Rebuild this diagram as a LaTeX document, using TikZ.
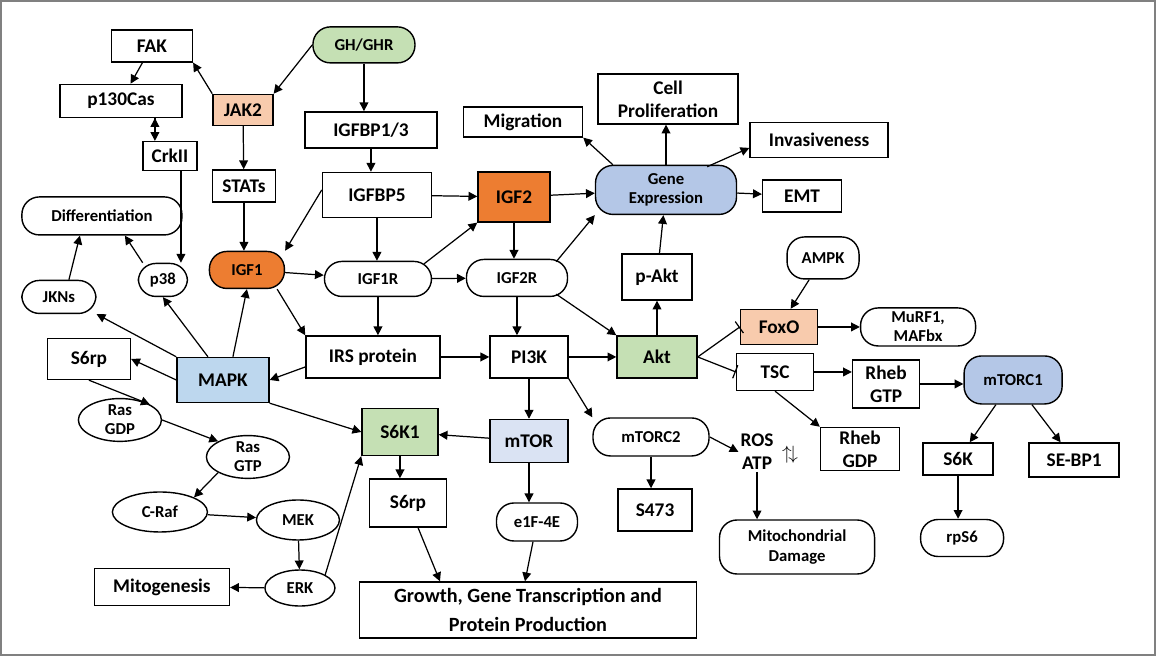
\documentclass[tikz,border=0pt]{standalone}
\usepackage{fontspec}
\setmainfont{Carlito}
\usetikzlibrary{shapes.geometric,arrows.meta}
\definecolor{orng}{HTML}{ED7D31}
\definecolor{peach}{HTML}{F8CBAD}
\definecolor{lgreen}{HTML}{C5E0B4}
\definecolor{lblue}{HTML}{B4C7E7}
\definecolor{sblue}{HTML}{BDD7EE}
\definecolor{mblue}{HTML}{DAE3F3}
\begin{document}
\begin{tikzpicture}[x=0.02cm,y=-0.02cm,
  every node/.style={font=\bfseries\fontsize{11}{13}\selectfont, align=center, inner sep=1pt},
  sz/.style 2 args={minimum width=#1*0.02cm, minimum height=#2*0.02cm},
  bx/.style={draw, thick, rectangle},
  rd/.style={draw, thick, rounded corners=0.35cm},
  el/.style={draw, thick, ellipse, inner sep=0pt},
  sm/.style={font=\bfseries\fontsize{9.5}{11}\selectfont},
  ar/.style={-{Triangle[length=5pt,width=5pt]}, line width=0.7pt},
  inh/.style={-{Bar[width=8pt]}, line width=0.7pt}]
\draw[gray, line width=1pt] (1,1) rectangle (1155,655);
\node[bx,sz={81}{32}] (fak) at (152,46) {FAK};
\node[rd,sz={102}{36},fill=lgreen,sm] (gh) at (364,45) {GH/GHR};
\node[bx,sz={60}{31},fill=peach] (jak) at (243,110) {JAK2};
\node[bx,sz={122}{33}] (p130) at (121,101) {p130Cas};
\node[bx,sz={132}{36}] (bp13) at (371,130) {IGFBP1/3};
\node[bx,sz={54}{29}] (crk) at (170,156) {CrkII};
\node[bx,sz={63}{32}] (stat) at (244,186) {STATs};
\node[bx,sz={109}{45}] (bp5) at (377,195) {IGFBP5};
\node[bx,sz={72}{50},fill=orng] (igf2) at (514,197) {IGF2};
\node[bx,sz={119}{30}] (mig) at (523,122) {Migration};
\node[bx,sz={140}{50}] (prol) at (668,99) {Cell\\Proliferation};
\node[bx,sz={138}{35}] (inv) at (819,140) {Invasiveness};
\node[rd,sz={141}{49},fill=lblue,sm,font=\bfseries\fontsize{9.5}{11}\selectfont] (ge) at (666,190) {Gene\\Expression};
\node[bx,sz={79}{32}] (emt) at (802,196) {EMT};
\node[rd,sz={160}{38},sm] (diff) at (102,216) {Differentiation};
\node[rd,sz={72}{42},sm] (ampk) at (823,258) {AMPK};
\node[rd,sz={49}{33},sm] (p38) at (163,280) {p38};
\node[rd,sz={75}{37},fill=orng,sm] (igf1) at (247,270) {IGF1};
\node[rd,sz={107}{35},sm] (igf1r) at (378,279) {IGF1R};
\node[rd,sz={101}{37},sm] (igf2r) at (517,278) {IGF2R};
\node[bx,sz={70}{46}] (pakt) at (657,277) {p-Akt};
\node[rd,sz={74}{33},sm] (jkn) at (59,297) {JKNs};
\node[bx,sz={77}{35},fill=peach] (foxo) at (779,327) {FoxO};
\node[rd,sz={115}{38},sm] (murf) at (918,327) {MuRF1,\\MAFbx};
\node[bx,sz={83}{41}] (s6l) at (89,359) {S6rp};
\node[bx,sz={92}{45},fill=sblue] (mapk) at (223,380) {MAPK};
\node[bx,sz={134}{42}] (irs) at (373,357) {IRS protein};
\node[bx,sz={78}{42}] (pi3k) at (529,357) {PI3K};
\node[bx,sz={80}{42},fill=lgreen] (akt) at (657,357) {Akt};
\node[bx,sz={77}{37}] (tsc) at (775,372) {TSC};
\node[bx,sz={67}{48}] (rgtp) at (886,384) {Rheb\\GTP};
\node[rd,sz={98}{48},fill=lblue,sm] (mtorc1) at (1013,380) {mTORC1};
\node[el,sz={83}{36},sm] (rasd) at (120,420) {Ras\\GDP};
\node[el,sz={83}{40},sm] (rast) at (248,457) {Ras\\GTP};
\node[bx,sz={76}{47},fill=lgreen] (s6k1) at (400,432) {S6K1};
\node[bx,sz={78}{43},fill=mblue] (mtor) at (529,441) {mTOR};
\node[rd,sz={116}{38},sm] (mtorc2) at (651,437) {mTORC2};
\node (ros) at (757,452) {ROS\\ATP};
\node (ud) at (790,455) {$\uparrow\!\downarrow$};
\node[bx,sz={79}{43}] (rgdp) at (860,449) {Rheb\\GDP};
\node[bx,sz={70}{32}] (s6k) at (958,459) {S6K};
\node[bx,sz={90}{34}] (sebp) at (1074,460) {SE-BP1};
\node[el,sz={95}{40},sm] (craf) at (160,512) {C-Raf};
\node[el,sz={83}{40},sm] (mek) at (298,520) {MEK};
\node[bx,sz={77}{48}] (s6m) at (408,503) {S6rp};
\node[rd,sz={81}{38},sm] (eif) at (537,522) {e1F-4E};
\node[bx,sz={74}{42}] (s473) at (655,510) {S473};
\node[rd,sz={155}{54},sm] (mito) at (797,547) {Mitochondrial\\Damage};
\node[rd,sz={83}{37},sm] (rps6) at (962,538) {rpS6};
\node[bx,sz={135}{37}] (mitog) at (162,587) {Mitogenesis};
\node[el,sz={70}{36},sm] (erk) at (300,588) {ERK};
\node[bx,sz={337}{56},font=\bfseries\fontsize{11.5}{17}\selectfont] (grow) at (528,610) {Growth, Gene Transcription and\\Protein Production};
% edges
\draw[ar] (jak.north west) -- (fak.south east);
\draw[ar] (gh.west) -- (jak.north east);
\draw[ar] (gh.south) -- (bp13.north -| gh.south);
\draw[ar] (fak) -- (p130);
\draw[ar] (p130.south -| crk.north) ++(-15,0) coordinate (c1);
\draw[ar] (155,118) -- (155,141);
\draw[ar] (crk.south -| 181,0) -- (p38.north -| 181,0);
\draw[ar] (jak) -- (stat);
\draw[ar] (stat) -- (stat |- igf1.north);
\draw[ar] (bp13) -- (bp13 |- bp5.north);
\draw[ar] (bp5.west) ++(0,-5) -- (igf1.north east);
\draw[ar] (bp5) -- (igf2);
\draw[ar] (bp5) -- (bp5 |- igf1r.north);
\draw[ar] (igf2) -- (ge);
\draw[ar] (igf2) -- (igf2 |- igf2r.north);
\draw[ar] (igf1r.north east) ++(-8,3) -- (igf2.south west);
\draw[ar] (igf1r) -- (igf2r);
\draw[ar] (igf1r) -- (igf1r |- irs.north);
\draw[ar] (igf1) -- (igf1r);
\draw[ar] (igf1.south east) ++(-8,0) -- (irs.north west);
\draw[ar] (igf2r.north east) ++(-12,3) -- (ge.south west);
\draw[ar] (igf2r.south east) ++(-12,-3) -- (akt.north west);
\draw[ar] (igf2r) -- (igf2r |- pi3k.north);
\draw[ar] (ge.north west) ++(18,0) -- (mig.south east);
\draw[ar] (ge.north) -- (prol.south -| ge.north);
\draw[ar] (ge.north east) ++(-30,2) -- (inv.west |- 0,148) ;
\draw[ar] (ge) -- (emt);
\draw[ar] (pakt) -- (ge);
\draw[ar] (akt) -- (pakt);
\draw[inh] (akt.east) -- (foxo.west);
\draw[inh] (akt.east) -- (tsc.west);
\draw[ar] (ampk) -- (foxo);
\draw[ar] (foxo) -- (murf);
\draw[ar] (tsc) -- (tsc -| rgtp.west);
\draw[ar] (tsc.south) -- (rgdp.north west);
\draw[ar] (rgtp) -- (rgtp -| mtorc1.west);
\draw[ar] (mtorc1) -- (s6k);
\draw[ar] (mtorc1) -- (sebp);
\draw[ar] (s6k) -- (rps6.north -| s6k);
\draw[ar] (irs) -- (pi3k);
\draw[ar] (irs.west) ++(0,10) -- (mapk.east);
\draw[ar] (pi3k) -- (akt);
\draw[ar] (pi3k) -- (pi3k |- mtor.north);
\draw[ar] (pi3k.south east) -- (mtorc2.north west);
\draw[ar] (mapk.west) -- (s6l.east);
\draw[ar] (mapk.north west) -- (jkn.south east);
\draw[ar] (mapk.north) ++(-15,0) -- (p38.south);
\draw[ar] (mapk.north) ++(10,0) -- (igf1.south);
\draw[ar] (p38.north west) ++(5,0) -- (diff.south -| 125,0);
\draw[ar] (jkn.north) ++(10,0) -- (diff.south -| 80,0);
\draw[ar] (mapk.south east) -- (s6k1.west);
\draw[ar] (mtor) -- (s6k1);
\draw[ar] (s6k1) -- (s6k1 |- s6m.north);
\draw[ar] (s6m) -- (grow.north -| 440,0);
\draw[ar] (eif) -- (grow.north -| 525,0);
\draw[ar] (mtor) -- (mtor |- eif.north);
\draw[ar] (mtorc2) -- (mtorc2 |- s473.north);
\draw[ar] (mtorc2.east) -- (ros.west);
\draw[ar] (ros.south) -- (mito.north -| ros.south);
\draw[ar] (s6l.south) -- (rasd.north east);
\draw[ar] (rasd.east) -- (rast.north west);
\draw[ar] (rast.south west) -- (craf.north east);
\draw[ar] (craf) -- (mek);
\draw[ar] (mek) -- (erk);
\draw[ar] (erk) -- (mitog);
\draw[ar] (erk.north east) -- (s6k1.south west);
\end{tikzpicture}
\end{document}
